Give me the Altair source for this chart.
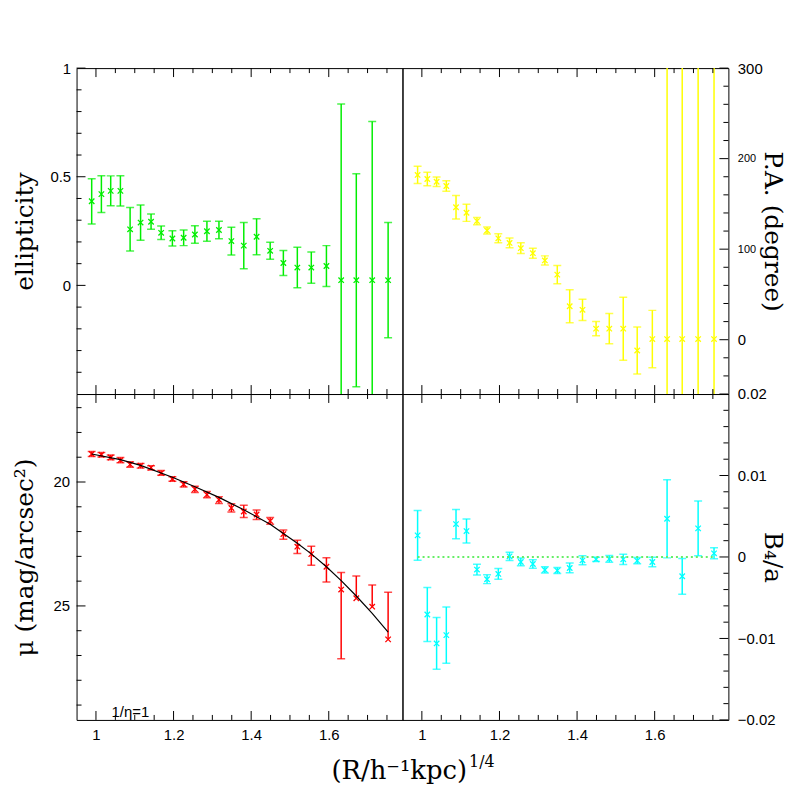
import altair as alt
import pandas as pd

# ---------------- data ----------------
R = [0.989, 1.014, 1.038, 1.063, 1.088, 1.115, 1.142, 1.168, 1.197, 1.226,
     1.255, 1.286, 1.317, 1.349, 1.381, 1.414, 1.449, 1.483, 1.519, 1.555,
     1.594, 1.632, 1.671, 1.712, 1.753]

ELL = [0.387, 0.420, 0.435, 0.435, 0.258, 0.289, 0.293, 0.242, 0.216, 0.219,
       0.234, 0.249, 0.255, 0.204, 0.183, 0.224, 0.159, 0.103, 0.082, 0.082,
       0.089, 0.024, 0.024, 0.024, 0.024]
ELL_ERR = [0.104, 0.085, 0.069, 0.070, 0.100, 0.081, 0.035, 0.031, 0.035, 0.036,
           0.040, 0.046, 0.040, 0.064, 0.106, 0.083, 0.039, 0.058, 0.093, 0.072,
           0.094, 0.811, 0.490, 0.730, 0.265]

PA = [182.0, 177.5, 174.5, 169.8, 146.3, 140.2, 131.0, 120.6, 112.0, 106.9,
      101.1, 95.6, 87.6, 71.9, 36.9, 33.0, 12.2, 12.2, 12.2, -11.9,
      0.7, 0.7, 0.7, 0.7, 0.7]
PA_ERR = [9.5, 7.4, 5.2, 5.8, 13.0, 9.5, 3.9, 3.9, 5.0, 5.4,
          5.9, 5.5, 5.0, 10.0, 18.3, 11.8, 7.8, 16.7, 34.8, 26.0,
          31.7, 500.0, 500.0, 500.0, 500.0]

MU = [18.87, 18.90, 19.01, 19.12, 19.29, 19.34, 19.42, 19.64, 19.88, 20.09,
      20.29, 20.51, 20.72, 21.05, 21.19, 21.31, 21.57, 22.10, 22.61, 22.91,
      23.42, 24.34, 24.69, 25.03, 26.35]
MU_ERR_UP = [0.10, 0.09, 0.10, 0.11, 0.11, 0.09, 0.08, 0.10, 0.09, 0.10,
             0.12, 0.13, 0.13, 0.17, 0.25, 0.18, 0.14, 0.16, 0.26, 0.32,
             0.36, 0.69, 0.90, 0.87, 1.90]
MU_ERR_DN = [0.10, 0.09, 0.09, 0.10, 0.11, 0.10, 0.10, 0.09, 0.09, 0.11,
             0.13, 0.13, 0.15, 0.16, 0.24, 0.20, 0.13, 0.21, 0.27, 0.45,
             0.61, 2.79, 0.0, 0.0, 0.0]

FIT_R = [0.989, 1.063, 1.115, 1.197, 1.255, 1.317, 1.381, 1.449, 1.483, 1.519,
         1.555, 1.594, 1.632, 1.671, 1.712, 1.753]
FIT_MU = [18.87, 19.10, 19.33, 19.81, 20.19, 20.62, 21.12, 21.70, 22.08, 22.47,
          22.90, 23.42, 23.98, 24.60, 25.30, 26.06]

B4 = [0.00265, -0.00706, -0.01061, -0.00959, 0.00404, 0.00318, -0.00155, -0.00273,
      -0.00208, 0.00008, -0.00061, -0.00086, -0.00159, -0.00167, -0.00135, -0.00041,
      -0.00029, -0.00024, -0.00029, -0.00045, -0.00061, 0.00469, -0.00237, 0.00351,
      0.00045]
B4_ERR = [0.00304, 0.00330, 0.00317, 0.00345, 0.00180, 0.00147, 0.00067, 0.00054,
          0.00066, 0.00051, 0.00047, 0.00051, 0.00039, 0.00037, 0.00060, 0.00055,
          0.00027, 0.00041, 0.00062, 0.00039, 0.00059, 0.00480, 0.00219, 0.00335,
          0.00067]

# tick positions (major = labelled / long, minor = short)
X_MAJOR = [1.0, 1.2, 1.4, 1.6]
X_MINOR = [1.05, 1.1, 1.15, 1.25, 1.3, 1.35, 1.45, 1.5, 1.55, 1.65, 1.7, 1.75]
ELL_MAJOR = [0.0, 0.5, 1.0]
ELL_MINOR = [-0.4, -0.3, -0.2, -0.1, 0.1, 0.2, 0.3, 0.4, 0.6, 0.7, 0.8, 0.9]
PA_MAJOR = [0, 100, 200, 300]
PA_MINOR = [-40, -20, 20, 40, 60, 80, 120, 140, 160, 180, 220, 240, 260, 280]
MU_MAJOR = [20, 25]
MU_MINOR = [17, 18, 19, 21, 22, 23, 24, 26, 27, 28, 29]
B4_MAJOR = [-0.02, -0.01, 0.0, 0.01, 0.02]
B4_MINOR = [-0.018, -0.016, -0.014, -0.012, -0.008, -0.006, -0.004, -0.002,
            0.002, 0.004, 0.006, 0.008, 0.012, 0.014, 0.016, 0.018]

X_DOMAIN = [0.95, 1.79]
ELL_DOMAIN = [-0.5, 1.0]
PA_DOMAIN = [-60, 300]
MU_DOMAIN = [16.45, 29.6]
B4_DOMAIN = [-0.02, 0.02]

X_TITLE = "(R/h\u207b\u00b9kpc)"
X_TITLE_SUP = "1/4"
NOTE = "1/\u03b7=1"
NOTE_X = [1.04]
NOTE_Y = [29.47]

W = 328
H = 328
MAJ_LEN = 9
MIN_LEN = 5
SERIF = "DejaVu Serif"
SANS = "Liberation Sans"
TITLE_SIZE = 25
XPATH = "M-1,-1L1,1M-1,1L1,-1"


def label_axis(orient, values, fmt, pad, title=None, title_x=0, title_angle=270,
               label_size=15):
    kw = dict(orient=orient, values=values, domain=False, grid=False, ticks=False,
              tickSize=0, labelFlush=False, labelOverlap=False, labelFont=SANS,
              labelColor="black", labelPadding=pad, format=fmt,
              labelFontSize=label_size)
    if title:
        kw.update(title=title, titleFont=SERIF, titleFontSize=TITLE_SIZE,
                  titleFontWeight="normal", titleColor="black",
                  titleX=title_x, titleY=H / 2, titleAngle=title_angle,
                  titleAlign="center", titleBaseline="alphabetic")
    else:
        kw["title"] = None
    return alt.Axis(**kw)


X_AXIS = label_axis("bottom", X_MAJOR, "~g", 8)


def panel(df, color, ydom, yaxis, side, ymaj, ymin, show_x, reverse=False, extra=()):
    xs = alt.Scale(domain=X_DOMAIN, nice=False, zero=False)
    ys = alt.Scale(domain=ydom, nice=False, zero=False, reverse=reverse)
    base = alt.Chart(df)
    rules = base.mark_rule(color=color, strokeWidth=1.5, clip=True).encode(
        x=alt.X("r:Q", scale=xs, axis=X_AXIS if show_x else None),
        y=alt.Y("lo:Q", scale=ys, axis=yaxis),
        y2="hi:Q")
    caps = base.transform_fold(["lo", "hi"], as_=["k", "yc"]).transform_filter(
        "datum.yc != datum.v").mark_tick(
        color=color, orient="horizontal", size=8, thickness=1.5, clip=True).encode(
        x=alt.X("r:Q", scale=xs, axis=None),
        y=alt.Y("yc:Q", scale=ys, axis=yaxis))
    pts = base.mark_point(shape=XPATH, filled=False, size=30, strokeWidth=1.3,
                          color=color, opacity=1, clip=True).encode(
        x=alt.X("r:Q", scale=xs, axis=None),
        y=alt.Y("v:Q", scale=ys, axis=yaxis))
    layers = [rules, caps, pts]
    # inward ticks on top / bottom edges
    for vals, L in ((X_MAJOR, MAJ_LEN), (X_MINOR, MIN_LEN)):
        tdf = pd.DataFrame({"t": vals})
        layers.append(alt.Chart(tdf).mark_rule(color="black", strokeWidth=1).encode(
            x=alt.X("t:Q", scale=xs, axis=None), y=alt.value(0), y2=alt.value(L)))
        layers.append(alt.Chart(tdf).mark_rule(color="black", strokeWidth=1).encode(
            x=alt.X("t:Q", scale=xs, axis=None), y=alt.value(H), y2=alt.value(H - L)))
    # inward ticks on the outer vertical edge
    for vals, L in ((ymaj, MAJ_LEN), (ymin, MIN_LEN)):
        tdf = pd.DataFrame({"t": vals})
        x0 = 0 if side == "left" else W
        x1 = L if side == "left" else W - L
        layers.append(alt.Chart(tdf).mark_rule(color="black", strokeWidth=1).encode(
            y=alt.Y("t:Q", scale=ys, axis=yaxis), x=alt.value(x0), x2=alt.value(x1)))
    for e in extra:
        layers.append(e(xs, ys, yaxis))
    return alt.layer(*layers).resolve_axis(x="independent").properties(width=W, height=H)


df_ell = pd.DataFrame({"r": R, "v": ELL,
                       "lo": [v - e for v, e in zip(ELL, ELL_ERR)],
                       "hi": [v + e for v, e in zip(ELL, ELL_ERR)]})
df_pa = pd.DataFrame({"r": R, "v": PA,
                      "lo": [v - e for v, e in zip(PA, PA_ERR)],
                      "hi": [v + e for v, e in zip(PA, PA_ERR)]})
df_mu = pd.DataFrame({"r": R, "v": MU,
                      "lo": [v - e for v, e in zip(MU, MU_ERR_UP)],
                      "hi": [v + e for v, e in zip(MU, MU_ERR_DN)]})
df_b4 = pd.DataFrame({"r": R, "v": B4,
                      "lo": [v - e for v, e in zip(B4, B4_ERR)],
                      "hi": [v + e for v, e in zip(B4, B4_ERR)]})
df_fit = pd.DataFrame({"r": FIT_R, "v": FIT_MU})
df_zero = pd.DataFrame({"r": [R[0], R[-1]], "v": [0.0, 0.0]})
df_note = pd.DataFrame({"r": NOTE_X, "v": NOTE_Y, "t": [NOTE]})
df_xt = pd.DataFrame({"t": [X_TITLE]})
df_xs = pd.DataFrame({"t": [X_TITLE_SUP]})


def fit_layer(xs, ys, yaxis):
    return alt.Chart(df_fit).mark_line(color="black", strokeWidth=1.2).encode(
        x=alt.X("r:Q", scale=xs, axis=None), y=alt.Y("v:Q", scale=ys, axis=yaxis))


def note_layer(xs, ys, yaxis):
    return alt.Chart(df_note).mark_text(font=SANS, fontSize=15, align="left",
                                        baseline="alphabetic", color="black").encode(
        x=alt.X("r:Q", scale=xs, axis=None), y=alt.Y("v:Q", scale=ys, axis=yaxis),
        text="t:N")


def xtitle_layer(xs, ys, yaxis):
    return alt.Chart(df_xt).mark_text(font=SERIF, fontSize=26, align="right",
                                      baseline="alphabetic", color="black").encode(
        x=alt.value(393), y=alt.value(387), text="t:N")


def xsup_layer(xs, ys, yaxis):
    return alt.Chart(df_xs).mark_text(font=SERIF, fontSize=16, align="left",
                                      baseline="alphabetic", color="black").encode(
        x=alt.value(395), y=alt.value(375), text="t:N")


def zero_layer(xs, ys, yaxis):
    return alt.Chart(df_zero).mark_line(color="#66ee66", strokeWidth=2,
                                        strokeDash=[2, 3]).encode(
        x=alt.X("r:Q", scale=xs, axis=None), y=alt.Y("v:Q", scale=ys, axis=yaxis))


ax_ell = label_axis("left", ELL_MAJOR, "~g", 6, title="ellipticity",
                    title_x=-44, title_angle=270)
ax_pa = label_axis("right", PA_MAJOR, "d", 9, title="P.A. (degree)",
                   title_x=36, title_angle=90,
                   label_size={"condition": {"test": "datum.value == 100 || datum.value == 200",
                                             "value": 11}, "value": 15})
ax_mu = label_axis("left", MU_MAJOR, "d", 7, title="\u03bc (mag/arcsec\u00b2)",
                   title_x=-44, title_angle=270)
ax_b4 = label_axis("right", B4_MAJOR, "~g", 9, title="B\u2084/a",
                   title_x=36, title_angle=90)

tl = panel(df_ell, "#00ee00", ELL_DOMAIN, ax_ell, "left", ELL_MAJOR, ELL_MINOR, False)
tr = panel(df_pa, "#ffff00", PA_DOMAIN, ax_pa, "right", PA_MAJOR, PA_MINOR, False)
bl = panel(df_mu, "#ff0000", MU_DOMAIN, ax_mu, "left", MU_MAJOR, MU_MINOR, True,
           reverse=True, extra=(fit_layer, note_layer, xtitle_layer, xsup_layer))
br = panel(df_b4, "#00ffff", B4_DOMAIN, ax_b4, "right", B4_MAJOR, B4_MINOR, True,
           extra=(zero_layer,))

chart = alt.concat(tl, tr, bl, br, columns=2, spacing=0, bounds="flush").properties(
    padding={"left": 4, "top": 50, "right": 4, "bottom": 0}
).configure_view(stroke="black", strokeWidth=1)

chart.save("out.html", embed_options={"renderer": "svg", "actions": False})
